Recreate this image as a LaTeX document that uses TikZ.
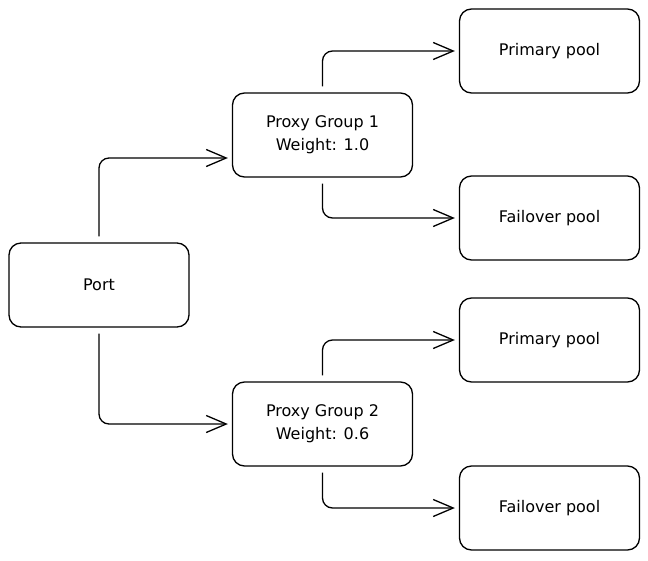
\documentclass[tikz,border=0pt]{standalone}
\usepackage{fontspec}
\setmainfont{DejaVu Sans}
\usetikzlibrary{arrows.meta}
\begin{document}
\begin{tikzpicture}[x=1pt,y=-1pt,
  box/.style={draw, line width=1.3pt, rounded corners=12pt, minimum width=180pt,
    minimum height=84pt, align=center, inner sep=0pt,
    font=\fontsize{16}{23}\selectfont},
  conn/.style={draw, line width=1.3pt, rounded corners=10pt,
    -{Straight Barb[length=20pt,width=17pt,line width=1.3pt]},
    shorten >=4pt, shorten <=6pt}]
\useasboundingbox (0,0) rectangle (648,560);
\node[box] (port) at (99,285) {Port};
\node[box] (pg1) at (322.5,135) {Proxy Group 1\\Weight: 1.0};
\node[box] (pg2) at (322.5,424) {Proxy Group 2\\Weight: 0.6};
\node[box] (pri1) at (549.5,51) {Primary pool};
\node[box] (fail1) at (549.5,218) {Failover pool};
\node[box] (pri2) at (549.5,340) {Primary pool};
\node[box] (fail2) at (549.5,508) {Failover pool};
\draw[conn] (port.north) |- ([yshift=-23pt]pg1.west);
\draw[conn] (port.south) |- (pg2.west);
\draw[conn] (pg1.north) |- (pri1.west);
\draw[conn] (pg1.south) |- (fail1.west);
\draw[conn] (pg2.north) |- (pri2.west);
\draw[conn] (pg2.south) |- (fail2.west);
\end{tikzpicture}
\end{document}
